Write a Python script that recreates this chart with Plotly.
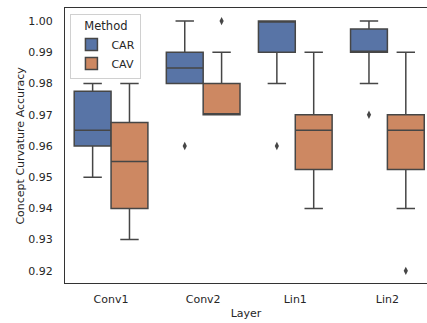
import plotly.graph_objects as go

# Layers on the x axis
layers = ["Conv1", "Conv2", "Lin1", "Lin2"]

# Box summaries per method (lower whisker, Q1, median, Q3, upper whisker)
car_lower = [0.95, 0.98, 0.98, 0.98]
car_q1 = [0.96, 0.98, 0.99, 0.99]
car_median = [0.965, 0.985, 1.00, 0.99]
car_q3 = [0.9775, 0.99, 1.00, 0.9975]
car_upper = [0.98, 1.00, 1.00, 1.00]

cav_lower = [0.93, 0.97, 0.94, 0.94]
cav_q1 = [0.94, 0.97, 0.9525, 0.9525]
cav_median = [0.955, 0.97, 0.965, 0.965]
cav_q3 = [0.9675, 0.98, 0.97, 0.97]
cav_upper = [0.98, 0.99, 0.99, 0.99]

# Outlying runs
car_out_layer = ["Conv2", "Lin1", "Lin2"]
car_out_value = [0.96, 0.96, 0.97]
cav_out_layer = ["Conv2", "Lin2"]
cav_out_value = [1.00, 0.92]

y_ticks = [0.92, 0.93, 0.94, 0.95, 0.96, 0.97, 0.98, 0.99, 1.00]

BLUE = "#5874a6"
ORANGE = "#cd8862"
EDGE = "#464646"
FONT = "DejaVu Sans"

fig = go.Figure()

for name, color, lo, q1, med, q3, hi in [
    ("CAR", BLUE, car_lower, car_q1, car_median, car_q3, car_upper),
    ("CAV", ORANGE, cav_lower, cav_q1, cav_median, cav_q3, cav_upper),
]:
    fig.add_trace(go.Box(
        name=name, x=layers, lowerfence=lo, q1=q1, median=med, q3=q3, upperfence=hi,
        fillcolor=color, line=dict(color=EDGE, width=1.5),
        whiskerwidth=0.5, offsetgroup=name, boxpoints=False,
    ))

for name, xs, ys in [("CAR", car_out_layer, car_out_value),
                     ("CAV", cav_out_layer, cav_out_value)]:
    fig.add_trace(go.Scatter(
        x=xs, y=ys, mode="markers", offsetgroup=name, showlegend=False,
        marker=dict(symbol="diamond-tall", size=6, color=EDGE, line=dict(width=0)),
        hoverinfo="y",
    ))

fig.update_layout(
    width=427, height=323,
    margin=dict(l=65, r=0, t=8, b=40),
    paper_bgcolor="white", plot_bgcolor="white",
    font=dict(family=FONT, size=11, color="#262626"),
    boxmode="group", boxgap=0.2, boxgroupgap=0,
    scattermode="group", scattergap=0.2,
    legend=dict(
        title=dict(text="Method", side="top center", font=dict(size=11.5)),
        x=0.015, y=0.978, xanchor="left", yanchor="top",
        bgcolor="white", bordercolor="#d0d0d0", borderwidth=1,
        font=dict(size=11), itemwidth=30, tracegroupgap=0,
    ),
    showlegend=True,
    annotations=[dict(
        text="Concept Curvature Accuracy", textangle=-90,
        xref="paper", yref="paper", x=-0.124, y=0.5,
        xanchor="center", yanchor="middle", showarrow=False,
        font=dict(size=11, color="#262626"),
    )],
)

fig.update_xaxes(
    type="category", categoryorder="array", categoryarray=layers,
    range=[-0.5, 3.43], showgrid=False, zeroline=False,
    showline=True, linecolor="#333333", linewidth=1.25, mirror=True,
    ticks="", ticklabelstandoff=6,
    title=dict(text="Layer", standoff=3, font=dict(size=11)),
)
fig.update_yaxes(
    range=[0.9161, 1.0042], tickvals=y_ticks, tickformat=".2f",
    showgrid=False, zeroline=False,
    showline=True, linecolor="#333333", linewidth=1.25, mirror=False,
    ticks="", ticklabelstandoff=9,
)

fig.write_html("out.html")
